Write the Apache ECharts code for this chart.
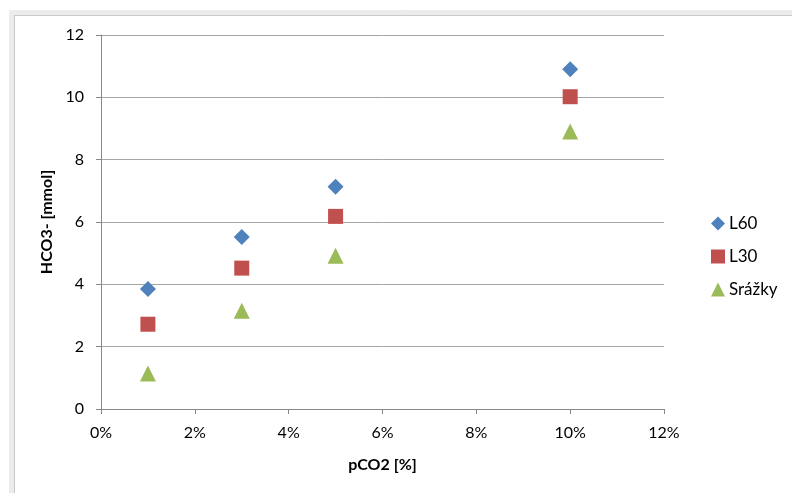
<!DOCTYPE html>
<html><head><meta charset="utf-8">
<script src="https://cdn.jsdelivr.net/npm/echarts@6/dist/echarts.min.js"></script>
<style>html,body{margin:0;padding:0;background:#fff}#c{width:792px;height:493px}</style>
</head><body><div id="c"></div>
<script>
const xTicks = [0, 0.02, 0.04, 0.06, 0.08, 0.10, 0.12];
const pco2 = [0.01, 0.03, 0.05, 0.10];
const L60 = [3.85, 5.52, 7.13, 10.9];
const L30 = [2.72, 4.52, 6.18, 10.02];
const srazky = [1.14, 3.15, 4.92, 8.9];
const names = ['L60', 'L30', 'Srážky'];
const font = 'Lato, "Open Sans", sans-serif';

const chart = echarts.init(document.getElementById('c'), null, {renderer: 'canvas'});
function pts(ys){ return pco2.map((x,i)=>[x, ys[i]]); }
chart.setOption({
  animation: false,
  backgroundColor: '#fff',
  graphic: [
    {type:'rect', shape:{x:9,y:10,width:783,height:6}, style:{fill:'#ececec'}},
    {type:'line', shape:{x1:9,y1:15.5,x2:792,y2:15.5}, style:{stroke:'#c8c8c8',lineWidth:1}},
    {type:'rect', shape:{x:9,y:10,width:6,height:483}, style:{fill:'#ececec'}},
    {type:'line', shape:{x1:14.5,y1:15,x2:14.5,y2:493}, style:{stroke:'#c8c8c8',lineWidth:1}}
  ],
  grid: {left: 101, right: 128, top: 35, bottom: 84},
  legend: {
    orient: 'vertical', left: 706, top: 210, itemGap: 16,
    itemWidth: 14, itemHeight: 14,
    textStyle: {fontFamily: font, fontSize: 17, color: '#000', padding: [0,0,0,-1]},
    data: names
  },
  xAxis: {
    type: 'value', min: 0, max: 0.12, interval: 0.02,
    name: 'pCO2 [%]', nameLocation: 'middle', nameGap: 48,
    nameTextStyle: {fontFamily: font, fontSize: 16, fontWeight: 'bold', color: '#000'},
    axisLine: {show: true, lineStyle: {color: '#888', width: 1}},
    axisTick: {show: true, length: 5, lineStyle: {color: '#888'}},
    splitLine: {show: false},
    axisLabel: {fontFamily: font, fontSize: 16, color: '#000', margin: 16,
      formatter: v => Math.round(v*100) + '%'}
  },
  yAxis: {
    type: 'value', min: 0, max: 12, interval: 2,
    name: 'HCO3- [mmol]', nameLocation: 'middle', nameGap: 44, nameRotate: 90,
    nameTextStyle: {fontFamily: font, fontSize: 16, fontWeight: 'bold', color: '#000'},
    axisLine: {show: true, lineStyle: {color: '#888', width: 1}},
    axisTick: {show: true, length: 5, lineStyle: {color: '#888'}},
    splitLine: {show: true, lineStyle: {color: '#a6a6a6', width: 1}},
    axisLabel: {fontFamily: font, fontSize: 16, color: '#000', margin: 17}
  },
  series: [
    {name: names[0], type: 'scatter', symbol: 'diamond', symbolSize: 16, itemStyle: {color: '#4F81BD', opacity: 1}, data: pts(L60)},
    {name: names[1], type: 'scatter', symbol: 'rect', symbolSize: 15, itemStyle: {color: '#C0504D', opacity: 1}, data: pts(L30)},
    {name: names[2], type: 'scatter', symbol: 'triangle', symbolSize: 16, itemStyle: {color: '#9BBB59', opacity: 1}, data: pts(srazky)}
  ]
});
</script></body></html>
